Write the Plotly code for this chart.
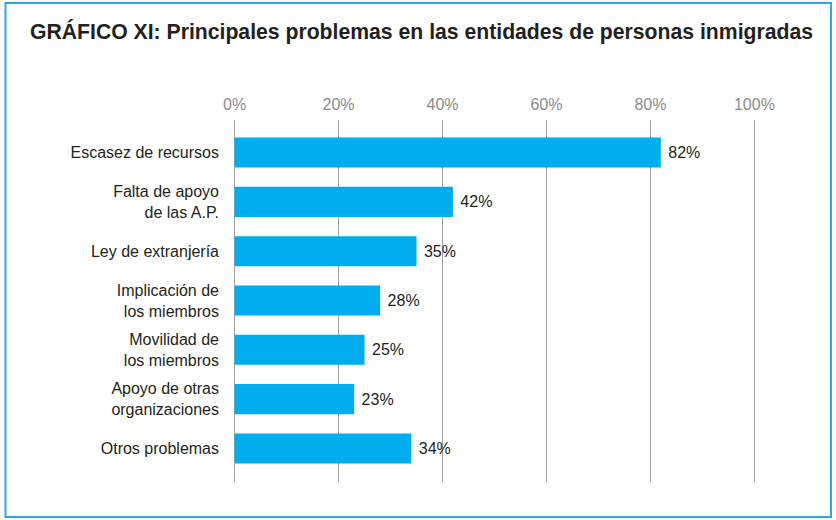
import plotly.graph_objects as go

categories = ["Escasez de recursos", "Falta de apoyo<br>de las A.P.", "Ley de extranjería",
              "Implicación de<br>los miembros", "Movilidad de<br>los miembros",
              "Apoyo de otras<br>organizaciones", "Otros problemas"]
values = [82, 42, 35, 28, 25, 23, 34]
tick_vals = [0, 20, 40, 60, 80, 100]
tick_text = ["0%", "20%", "40%", "60%", "80%", "100%"]
title = "GRÁFICO XI: Principales problemas en las entidades de personas inmigradas"

FONT = "Liberation Sans"

fig = go.Figure(go.Bar(
    y=categories, x=values, orientation="h",
    marker=dict(color="#00AEEF", line=dict(width=0)),
    width=0.61,
    text=[f"\u00a0{v}%" for v in values], textposition="outside",
    textfont=dict(family=FONT, size=16, color="#231F20"),
    cliponaxis=False,
))

W, H = 836, 520
L, R, T, B = 232, 79, 120, 38
pw, ph = W - L - R, H - T - B

def px_x(x):
    return (x - L) / pw

def px_y(y):
    return (H - B - y) / ph

fig.update_layout(
    width=W, height=H,
    margin=dict(l=L, r=R, t=T, b=B),
    paper_bgcolor="white", plot_bgcolor="white",
    showlegend=False,
    font=dict(family=FONT, color="#231F20"),
    title=dict(text="<b>" + title + "</b>", x=30 / W, xanchor="left", xref="container",
               y=1 - 32 / H, yanchor="middle", yref="container",
               font=dict(family=FONT, size=21.2, color="#231F20")),
    xaxis=dict(range=[-0.5, 100.5], side="top", tickvals=tick_vals, ticktext=tick_text,
               showgrid=True, gridcolor="#A0A0A0", gridwidth=1, zeroline=False,
               showline=False, ticks="", ticklabelstandoff=6,
               tickfont=dict(family=FONT, size=16, color="#8C8C8C")),
    yaxis=dict(range=[6.68, -0.66], showgrid=False, zeroline=False, showline=False,
               ticks="", ticklabelstandoff=12,
               tickfont=dict(family=FONT, size=16, color="#231F20")),
    shapes=[dict(type="rect", xref="paper", yref="paper",
                 x0=px_x(5.5), x1=px_x(831), y0=px_y(517), y1=px_y(3),
                 line=dict(color="#29ABE2", width=2), layer="below")],
)

fig.write_html("out.html", config={"displayModeBar": False},
               post_script="document.body.style.margin='0';")
